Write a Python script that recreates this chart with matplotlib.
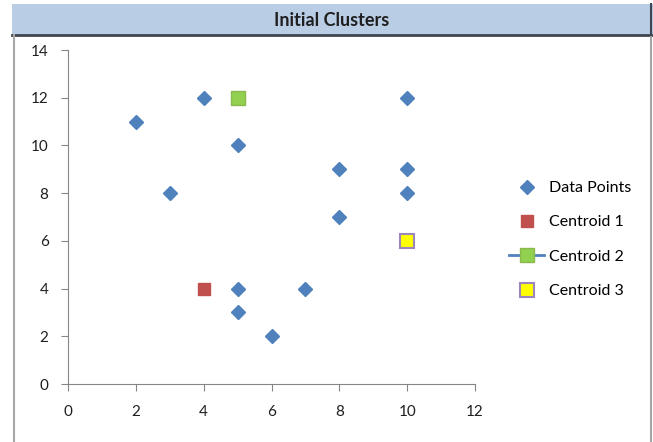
import matplotlib.pyplot as plt
from matplotlib.lines import Line2D
from matplotlib.patches import Rectangle

plt.rcParams['font.family'] = ['Lato', 'DejaVu Sans']

# data points
data_x = [2, 3, 4, 5, 5, 5, 6, 7, 8, 8, 10, 10, 10]
data_y = [11, 8, 12, 10, 4, 3, 2, 4, 9, 7, 12, 9, 8]

# initial centroids
centroid_names = ['Centroid 1', 'Centroid 2', 'Centroid 3']
centroid_x = [4, 5, 10]
centroid_y = [4, 12, 6]

fig = plt.figure(figsize=(6.53, 4.42), dpi=100)
W, H = 653, 442

# title bar
fig.patches.append(Rectangle((12 / W, 1 - 35 / H), 1 - 12 / W, 31 / H,
                             transform=fig.transFigure, facecolor='#b9cde5',
                             edgecolor='none', zorder=0))
fig.lines.append(Line2D([12 / W, 1], [1 - 35 / H, 1 - 35 / H], transform=fig.transFigure,
                        color='#3f4651', lw=2))
fig.lines.append(Line2D([14 / W, 14 / W], [0, 1 - 35 / H], transform=fig.transFigure,
                        color='#a6a6a6', lw=1.5))
fig.lines.append(Line2D([651 / W, 651 / W], [0, 1 - 35 / H], transform=fig.transFigure,
                        color='#a6a6a6', lw=1.5))
fig.lines.append(Line2D([651 / W, 651 / W], [1 - 35 / H, 1 - 4 / H], transform=fig.transFigure,
                        color='#3f4651', lw=1.5))
fig.text(332 / W, 1 - 20 / H, 'Initial Clusters', ha='center', va='center',
         fontsize=13, fontweight='bold', color='#1f1f1f')

ax = fig.add_axes([68 / W, 1 - 384 / H, 407 / W, 334 / H])
ax.set_xlim(0, 12)
ax.set_ylim(0, 14)
ax.set_xticks(range(0, 13, 2))
ax.set_yticks(range(0, 15, 2))
for s in ['top', 'right']:
    ax.spines[s].set_visible(False)
for s in ['left', 'bottom']:
    ax.spines[s].set_color('#868686')
ax.tick_params(axis='both', direction='out', length=5, color='#868686', labelsize=11,
               labelcolor='#1f1f1f')
ax.tick_params(axis='x', pad=10)
ax.tick_params(axis='y', pad=9)

ax.plot(data_x, data_y, 'D', ms=7, color='#4f81bd', clip_on=False)
ax.plot(centroid_x[0], centroid_y[0], 's', ms=9, color='#c0504d', mec='#c0504d')
ax.plot(centroid_x[1], centroid_y[1], 's', ms=10, color='#92d050', mec='#8cb850')
ax.plot(centroid_x[2], centroid_y[2], 's', ms=9.5, color='#ffff00', mec='#9b86c0', mew=1.5)

handles = [
    Line2D([], [], ls='none', marker='D', ms=7, color='#4f81bd'),
    Line2D([], [], ls='none', marker='s', ms=9, color='#c0504d'),
    Line2D([], [], ls='-', lw=2, marker='s', ms=10, color='#4f81bd', mfc='#92d050', mec='#8cb850'),
    Line2D([], [], ls='none', marker='s', ms=9.5, mfc='#ffff00', mec='#9b86c0', mew=1.5),
]
labels = ['Data Points'] + centroid_names
fig.legend(handles, labels, loc='upper left', bbox_to_anchor=(509 / W, 1 - 181 / H),
           frameon=False, fontsize=11.5, labelspacing=1.26, handlelength=2.2,
           handletextpad=0.3, borderaxespad=0, borderpad=0)

fig.savefig('out.png', dpi=100)
